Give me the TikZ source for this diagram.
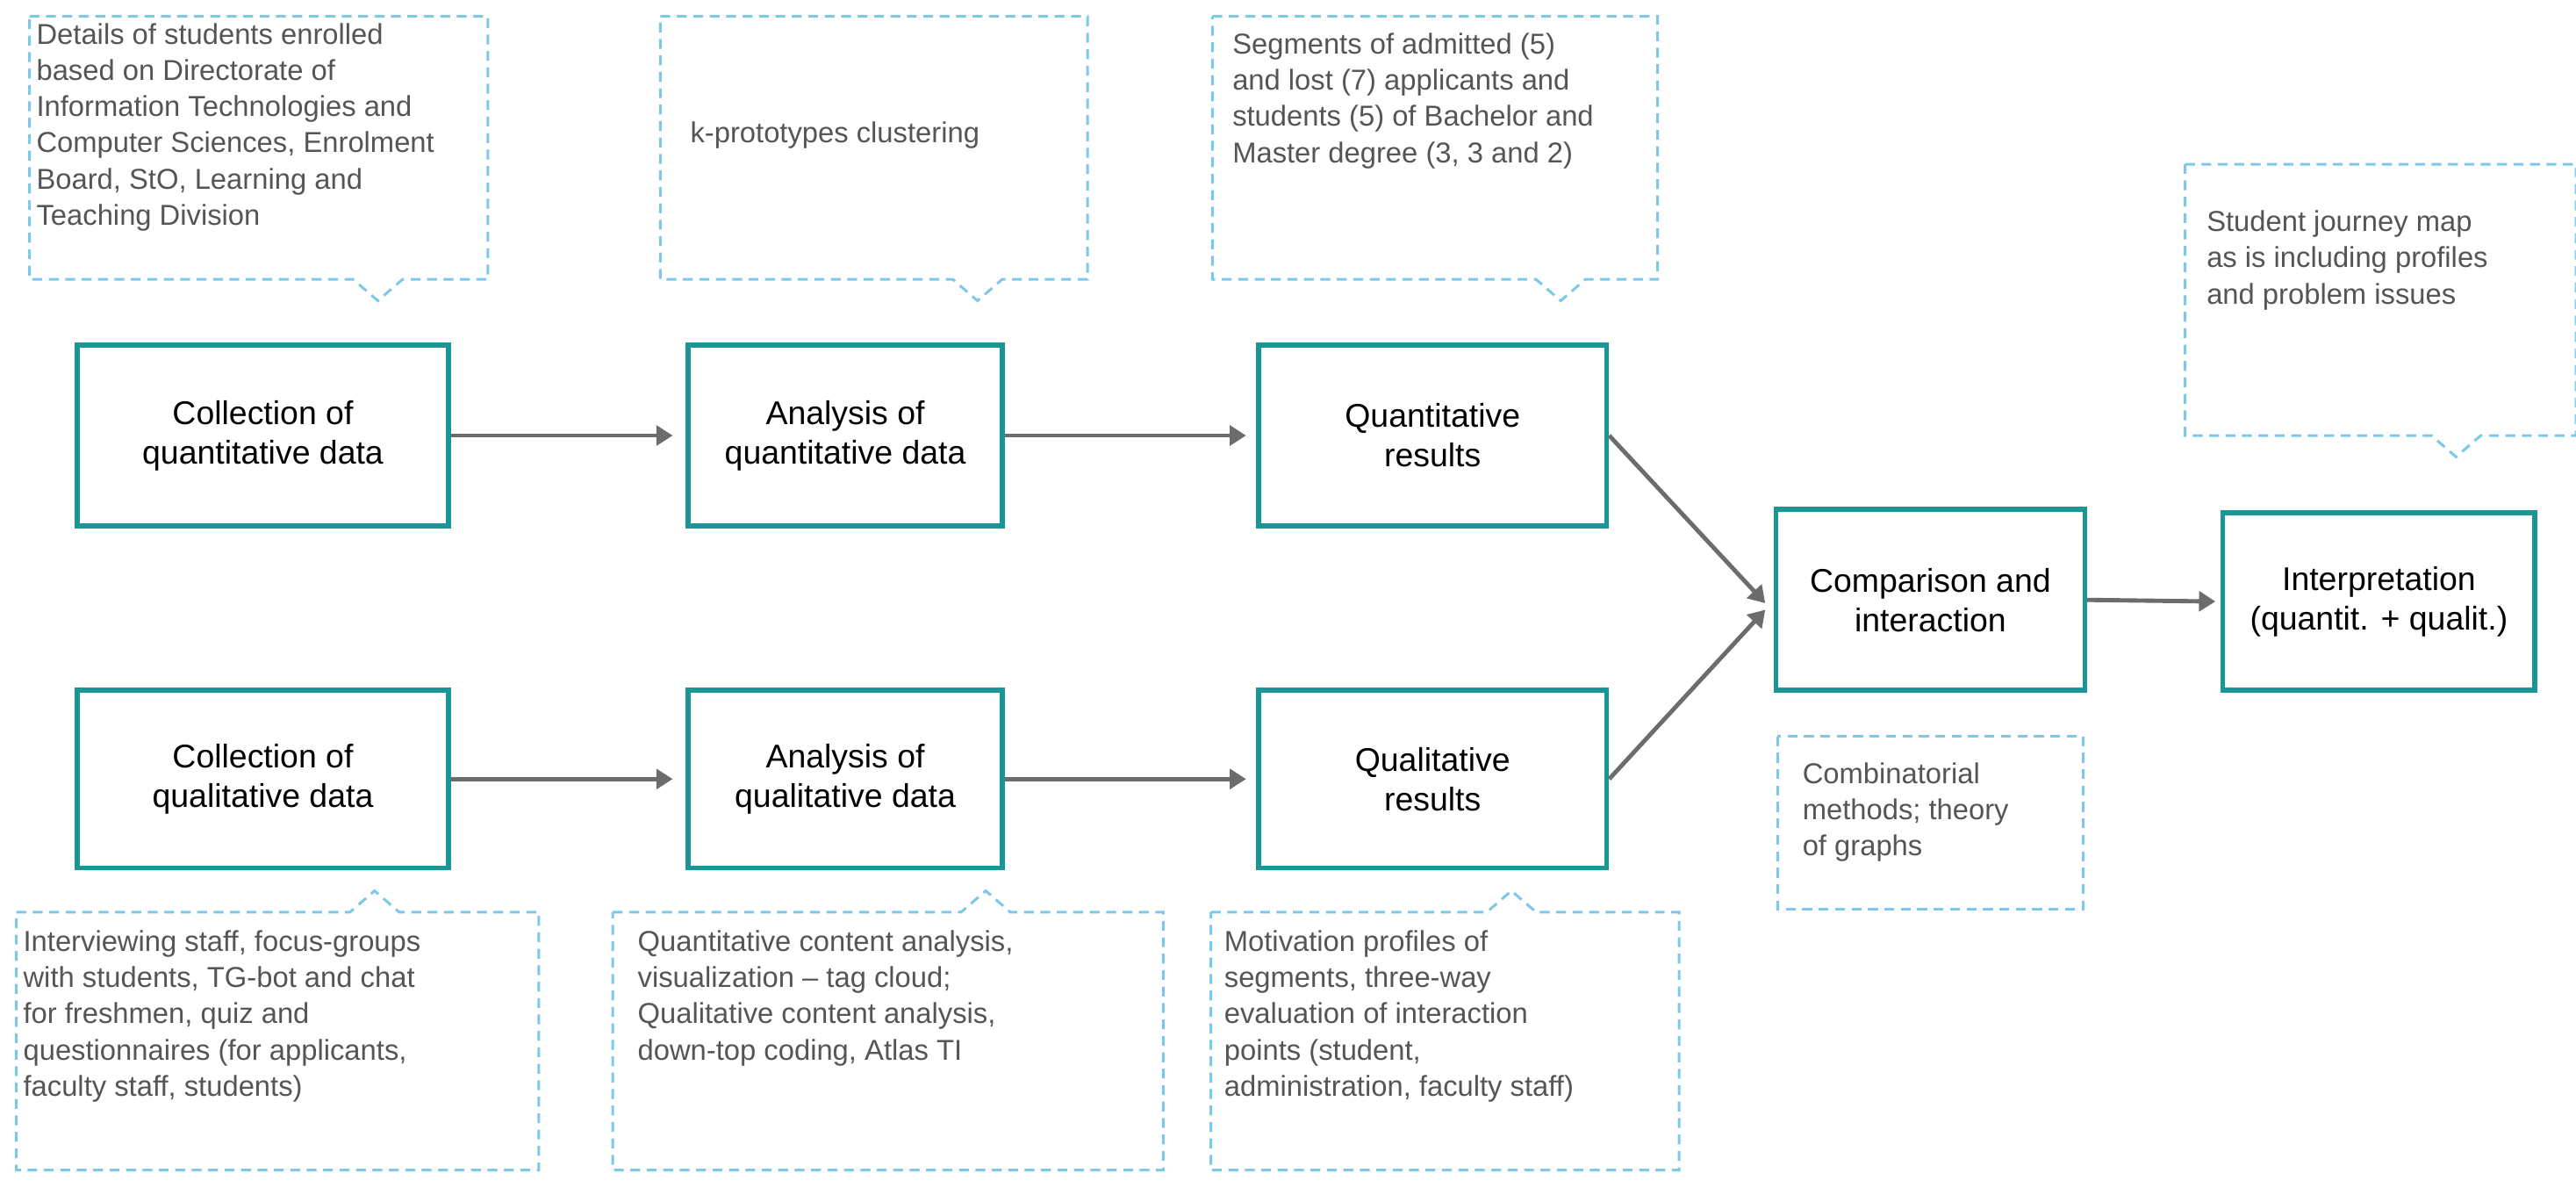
\documentclass[tikz,border=0pt]{standalone}
\usepackage{fontspec}
\setmainfont{Liberation Sans}
\usetikzlibrary{arrows.meta,calc}
\definecolor{teal}{HTML}{1B9696}
\definecolor{cblue}{HTML}{7CC8EA}
\definecolor{tgray}{HTML}{555555}
\begin{document}
\begin{tikzpicture}[x=1pt,y=-1pt,
 box/.style={draw=teal,line width=3pt,fill=white,align=center,font=\fontsize{20}{24}\selectfont,inner sep=2pt},
 note/.style={align=left,font=\fontsize{17.5}{22}\selectfont,text=tgray,anchor=north west,inner sep=0pt},
 outl/.style={draw=cblue,line width=1.6pt,dash pattern=on 6pt off 4pt},
 arr/.style={draw=gray!85!black,line width=2.6pt,-{Triangle[length=10pt,width=12pt]}}]
\useasboundingbox (0,0) rectangle (1568,727);
% boxes
\node[box,minimum width=226,minimum height=110] (cq) at (160,265) {Collection of\\quantitative data};
\node[box,minimum width=191,minimum height=110] (aq) at (514.5,265) {Analysis of\\quantitative data};
\node[box,minimum width=212,minimum height=110] (rq) at (872,265) {Quantitative\\results};
\node[box,minimum width=226,minimum height=108] (cl) at (160,474) {Collection of\\qualitative data};
\node[box,minimum width=191,minimum height=108] (al) at (514.5,474) {Analysis of\\qualitative data};
\node[box,minimum width=212,minimum height=108] (rl) at (872,474) {Qualitative\\results};
\node[box,minimum width=188,minimum height=110] (cmp) at (1175,365) {Comparison and\\interaction};
\node[box,minimum width=190,minimum height=108] (int) at (1448,366) {Interpretation\\(quantit. + qualit.)};
% arrows
\draw[arr] (cq.east) -- ($(aq.west)+(-8,0)$);
\draw[arr] (aq.east) -- ($(rq.west)+(-6,0)$);
\draw[arr] (cl.east) -- ($(al.west)+(-8,0)$);
\draw[arr] (al.east) -- ($(rl.west)+(-6,0)$);
\draw[arr] (rq.east) -- ($(cmp.west)+(-5,2)$);
\draw[arr] (rl.east) -- ($(cmp.west)+(-5,6)$);
\draw[arr] (cmp.east) -- ($(int.west)+(-3,0)$);
% top callouts
\draw[outl] (18,10) -- (297,10) -- (297,170) -- (245,170) -- (230,183) -- (215,170) -- (18,170) -- cycle;
\node[note] (n1) at (22,14) {Details of students enrolled\\based on Directorate of\\Information Technologies and\\Computer Sciences, Enrolment\\Board, StO, Learning  and\\Teaching Division};
\draw[outl] (402,10) -- (662,10) -- (662,170) -- (610,170) -- (595,183) -- (580,170) -- (402,170) -- cycle;
\node[note] (n2) at (420,74) {k-prototypes clustering};
\draw[outl] (738,10) -- (1009,10) -- (1009,170) -- (965,170) -- (950,183) -- (935,170) -- (738,170) -- cycle;
\node[note] (n3) at (750,20) {Segments of admitted (5)\\and lost (7) applicants and\\students (5) of Bachelor and\\Master degree (3, 3 and 2)};
\draw[outl] (1330,100) -- (1568,100) -- (1568,265) -- (1510,265) -- (1495,278) -- (1480,265) -- (1330,265) -- cycle;
\node[note] (n4) at (1343,128) {Student journey map\\as is including profiles\\and problem issues};
% bottom callouts
\draw[outl] (10,555) -- (213,555) -- (228,542) -- (243,555) -- (328,555) -- (328,712) -- (10,712) -- cycle;
\node[note] (n5) at (14,566) {Interviewing staff, focus-groups\\with students, TG-bot and chat\\for freshmen, quiz and\\questionnaires  (for applicants,\\faculty staff, students)};
\draw[outl] (373,555) -- (585,555) -- (600,542) -- (615,555) -- (708,555) -- (708,712) -- (373,712) -- cycle;
\node[note] (n6) at (388,566) {Quantitative content analysis,\\visualization -- tag cloud;\\Qualitative content analysis,\\down-top coding, Atlas TI};
\draw[outl] (737,555) -- (905,555) -- (920,542) -- (935,555) -- (1022,555) -- (1022,712) -- (737,712) -- cycle;
\node[note] (n7) at (745,566) {Motivation profiles of\\segments, three-way\\evaluation of interaction\\points (student,\\administration, faculty staff)};
\draw[outl] (1082,448) rectangle (1268,553);
\node[note] (n8) at (1097,464) {Combinatorial\\methods;  theory\\of graphs};
\end{tikzpicture}
\end{document}
